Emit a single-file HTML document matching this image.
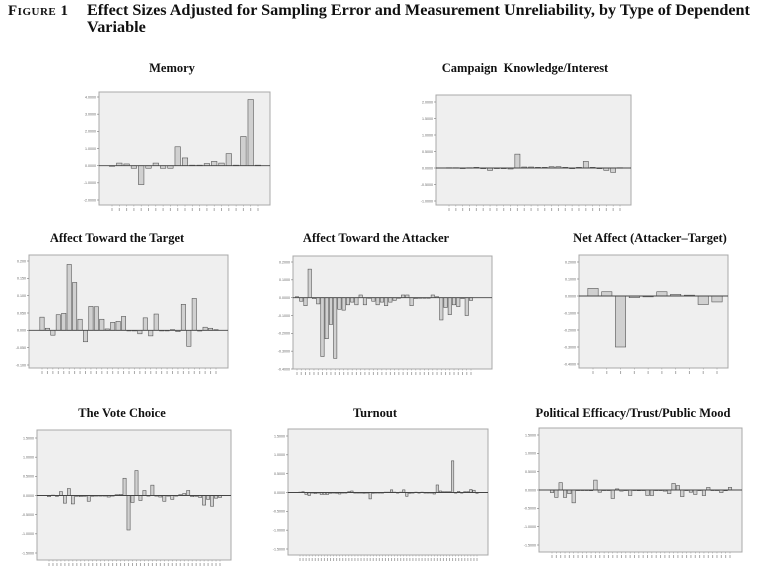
<!DOCTYPE html>
<html><head><meta charset="utf-8">
<style>
body{margin:0;background:#fff;width:763px;height:569px;overflow:hidden;position:relative;font-family:"Liberation Serif",serif;}
.hdr{position:absolute;font-weight:bold;color:#111;}
.t{position:absolute;font-weight:bold;font-size:12.5px;color:#111;white-space:nowrap;transform:translateX(-50%);}
svg{position:absolute;left:0;top:0;}
</style></head><body>
<div class="hdr" style="left:8px;top:3px;font-size:15px;font-variant:small-caps;letter-spacing:0.5px;">Figure 1</div>
<div class="hdr" style="left:87px;top:2px;font-size:16.2px;line-height:17px;width:675px;">Effect Sizes Adjusted for Sampling Error and Measurement Unreliability, by Type of Dependent Variable</div>
<div class="t" style="left:172px;top:61px">Memory</div>
<div class="t" style="left:525px;top:61px">Campaign&nbsp; Knowledge/Interest</div>
<div class="t" style="left:117px;top:231px">Affect Toward the Target</div>
<div class="t" style="left:376px;top:231px">Affect Toward the Attacker</div>
<div class="t" style="left:650px;top:231px">Net Affect (Attacker–Target)</div>
<div class="t" style="left:122px;top:406px">The Vote Choice</div>
<div class="t" style="left:375px;top:406px">Turnout</div>
<div class="t" style="left:633px;top:406px">Political Efficacy/Trust/Public Mood</div>
<svg id="s" width="763" height="569"></svg>
<script>
const memVals=[-0.03,0.15,0.1,-0.15,-1.1,-0.15,0.15,-0.15,-0.15,1.1,0.45,0.03,0.03,0.12,0.25,0.15,0.7,0.03,1.7,3.85,0.03];
const memTicks=[4,3,2,1,0,-1,-2];
const campVals=[0.01,0.01,0,0.01,0.02,-0.02,-0.07,0,-0.02,-0.03,0.42,0.03,0.03,0.02,0.02,0.04,0.04,0.02,-0.02,0.02,0.2,0.02,-0.02,-0.07,-0.13,0.01];
const campTicks=[2,1.5,1,0.5,0,-0.5,-1];
const tgtVals=[0.038,0.006,-0.014,0.045,0.049,0.19,0.138,0.032,-0.033,0.069,0.068,0.032,0.004,0.023,0.026,0.04,0,0,-0.01,0.036,-0.016,0.047,0,0,0.002,-0.004,0.075,-0.046,0.092,-0.002,0.009,0.006,0.002];
const tgtTicks=[0.2,0.15,0.1,0.05,0,-0.05,-0.1];
const attVals=[0.005,-0.02,-0.045,0.16,-0.005,-0.035,-0.33,-0.23,-0.15,-0.34,-0.065,-0.07,-0.04,-0.025,-0.04,0.015,-0.04,0,-0.02,-0.04,-0.025,-0.045,-0.025,-0.015,0,0.015,0.015,-0.045,-0.005,0,0,0,0.015,0.005,-0.125,-0.055,-0.095,-0.04,-0.05,-0.005,-0.1,-0.015];
const attTicks=[0.2,0.1,0,-0.1,-0.2,-0.3,-0.4];
const netVals=[0.045,0.025,-0.3,-0.01,-0.005,0.025,0.01,0.005,-0.05,-0.035];
const netTicks=[0.2,0.1,0,-0.1,-0.2,-0.3,-0.4];
const voteVals=[-0.03,0.01,-0.02,0.1,-0.2,0.18,-0.22,-0.02,-0.03,-0.02,-0.15,-0.02,-0.01,-0.01,-0.01,-0.04,0,0.02,0.03,0.45,-0.9,-0.18,0.65,-0.13,0.13,0,0.27,0,-0.04,-0.15,0,-0.1,0,0.02,0.05,0.13,-0.03,-0.02,-0.05,-0.25,-0.1,-0.28,-0.07,-0.05];
const voteTicks=[1.5,1,0.5,0,-0.5,-1,-1.5];
const turnVals=[0.01,0.02,-0.05,-0.08,0,-0.03,0,-0.05,-0.05,-0.05,-0.02,-0.01,-0.02,-0.04,0,0,0.02,0.04,0,0,0,-0.02,-0.01,-0.17,-0.02,0,0,0,0.01,0.01,0.07,0.01,0,0.01,0.07,-0.1,-0.02,0,0.01,0,0.01,0,0,-0.01,-0.04,0.2,0.04,0.02,0.02,0.02,0.84,0,0.03,0,0.02,0.02,0.08,0.06,-0.02];
const turnTicks=[1.5,1,0.5,0,-0.5,-1,-1.5];
const effVals=[-0.07,-0.2,0.2,-0.2,-0.1,-0.35,0,0,0,-0.02,0.27,-0.06,0,0,-0.23,0.03,-0.03,0,-0.15,0,-0.02,0,-0.15,-0.15,0,0,-0.03,-0.1,0.18,0.12,-0.18,0,-0.06,-0.12,0,-0.15,0.07,0,0,-0.07,-0.02,0.07];
const effTicks=[1.5,1,0.5,0,-0.5,-1,-1.5];

const panels=[
 {n:'memory',vals:memVals,ticks:memTicks,box:[99,92,171,113],tTop:97,tBot:200,b0:112,b1:258,bw:0.75,fmt:4},
 {n:'campaign',vals:campVals,ticks:campTicks,box:[436,95,195,110],tTop:102,tBot:201,b0:449,b1:620,bw:0.75,fmt:4},
 {n:'affect-target',vals:tgtVals,ticks:tgtTicks,box:[29,255,199,113],tTop:261,tBot:365,b0:42,b1:216,bw:0.8,fmt:3},
 {n:'affect-attacker',vals:attVals,ticks:attTicks,box:[293,256,199,113],tTop:262,tBot:369,b0:297,b1:471,bw:0.8,fmt:4},
 {n:'net-affect',vals:netVals,ticks:netTicks,box:[579,255,149,113],tTop:262,tBot:364,b0:593,b1:717,bw:0.75,fmt:4},
 {n:'vote-choice',vals:voteVals,ticks:voteTicks,box:[37,430,194,130],tTop:438,tBot:553,b0:49,b1:220,bw:0.8,fmt:4},
 {n:'turnout',vals:turnVals,ticks:turnTicks,box:[288,429,200,126],tTop:436,tBot:549,b0:300,b1:477,bw:0.8,fmt:4},
 {n:'efficacy',vals:effVals,ticks:effTicks,box:[539,428,203,124],tTop:435,tBot:545,b0:552,b1:730,bw:0.8,fmt:4}
];
const NS='http://www.w3.org/2000/svg';
const svg=document.getElementById('s');
function mk(t,a,p){const e=document.createElementNS(NS,t);for(const k in a)e.setAttribute(k,a[k]);(p||svg).appendChild(e);return e;}
panels.forEach(P=>{
  const g=mk('g',{});
  
  
  const [x,y,w,h]=P.box;
  const bg=mk('rect',{x:x,y:y,width:w,height:h,fill:'#efefef',stroke:'#a8a8a8','stroke-width':1},g);
  
  
  const tMax=P.ticks[0],tMin=P.ticks[P.ticks.length-1];
  const yS=v=>P.tTop+(tMax-v)/(tMax-tMin)*(P.tBot-P.tTop);
  P.ticks.forEach(t=>{
    const ty=yS(t);
    mk('line',{x1:x-2,x2:x,y1:ty,y2:ty,stroke:'#777','stroke-width':0.6},g);
    const tx=mk('text',{x:x-3,y:ty+1.3,'font-size':3.6,'text-anchor':'end',fill:'#666','font-family':'Liberation Sans, sans-serif'},g);
    tx.textContent=t.toFixed(P.fmt);
    
    
  });
  const n=P.vals.length, step=(P.b1-P.b0)/(n-1), bw=step*P.bw;
  const y0=yS(0);
  P.vals.forEach((v,i)=>{
    const cx=P.b0+i*step;
    const yv=yS(v);
    const r=mk('rect',{x:cx-bw/2,y:Math.min(yv,y0),width:bw,height:Math.max(Math.abs(yv-y0),0.6),fill:'#d0d0d0',stroke:'#4a4a4a','stroke-width':0.55},g);
    
    
    mk('line',{x1:cx,x2:cx,y1:y+h,y2:y+h+1.5,stroke:'#888','stroke-width':0.4},g);
    mk('rect',{x:cx-0.5,y:y+h+3,width:1,height:3,fill:'#aaa'},g);
  });
  const zl=mk('line',{x1:x,x2:x+w,y1:y0,y2:y0,stroke:'#444','stroke-width':0.9},g);
  
  
});
</script>
</body></html>
